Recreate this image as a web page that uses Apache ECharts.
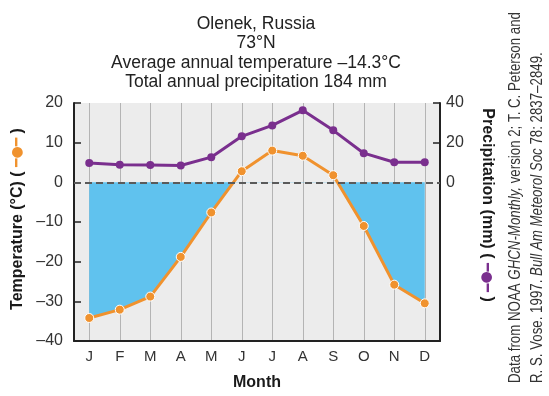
<!DOCTYPE html>
<html>
<head>
<meta charset="utf-8">
<script src="https://cdn.jsdelivr.net/npm/echarts@6/dist/echarts.min.js"></script>
<style>
  html, body { margin: 0; padding: 0; background: #fff; }
  #chart { width: 549px; height: 396px; }
</style>
</head>
<body>
<div id="chart"></div>
<script>
// climate diagram data
var months = ['J', 'F', 'M', 'A', 'M', 'J', 'J', 'A', 'S', 'O', 'N', 'D'];
var temperature = [-34.2, -32.1, -28.8, -18.8, -7.6, 2.8, 8.0, 6.7, 1.8, -11.0, -25.8, -30.5];
var precipitation = [9.7, 8.9, 8.7, 8.5, 12.7, 23.2, 28.7, 36.3, 26.2, 14.7, 10.1, 10.1];
var tempTicks = [-40, -30, -20, -10, 0, 10, 20];
var precipTicks = [0, 20, 40];

var orange = '#f0922e';
var purple = '#7a2f8e';
var blue = '#60c2ee';
var font = 'Liberation Sans, Arial, sans-serif';

function dash(v) {
    return String(v).replace('-', '–');
}

var chart = echarts.init(document.getElementById('chart'));
chart.setOption({
    animation: false,
    grid: {
        left: 74, right: 109, top: 103, bottom: 55,
        show: true, backgroundColor: '#ececec', borderWidth: 0
    },
    visualMap: {
        type: 'piecewise', show: false, dimension: 1, seriesIndex: 0,
        pieces: [
            { gte: -40, lt: 0, color: blue },
            { gte: 0, lte: 20, color: 'rgba(236,236,236,0)' }
        ]
    },
    xAxis: {
        type: 'category',
        data: months,
        boundaryGap: true,
        name: 'Month',
        nameLocation: 'middle',
        nameGap: 34,
        nameTextStyle: { fontFamily: font, fontSize: 16, fontWeight: 'bold', color: '#1a1a1a' },
        axisLine: { onZero: false, lineStyle: { color: '#222', width: 2 } },
        axisTick: { alignWithLabel: true, inside: true, length: 7, lineStyle: { color: '#222', width: 1.5 } },
        axisLabel: { fontFamily: font, fontSize: 15, color: '#333', margin: 8 },
        splitLine: { show: true, alignWithLabel: true, interval: 0, lineStyle: { color: '#b4b4b4', width: 1 } }
    },
    yAxis: [
        {
            type: 'value',
            min: -40, max: 20, interval: 10,
            name: '{t|Temperature (°C) ( }{o|━●━}{t| )}',
            nameLocation: 'middle',
            nameRotate: 90,
            nameGap: 37,
            nameTextStyle: {
                padding: [0, 0, 0, 6],
                rich: {
                    t: { fontFamily: font, fontSize: 16, fontWeight: 'bold', color: '#1a1a1a' },
                    o: { fontFamily: 'DejaVu Sans', fontSize: 14, color: orange }
                }
            },
            axisLine: { show: true, lineStyle: { color: '#222', width: 2 } },
            axisTick: { show: true, inside: true, length: 7, lineStyle: { color: '#222', width: 1.5 } },
            axisLabel: { fontFamily: font, fontSize: 16, color: '#333', margin: 11, customValues: tempTicks, formatter: dash },
            splitLine: { show: false }
        },
        {
            type: 'value',
            min: -80, max: 40, interval: 20,
            name: '{t|Precipitation (mm) ( }{o|━●━}{t| )}',
            nameLocation: 'middle',
            nameRotate: -90,
            nameGap: 39,
            nameTextStyle: {
                padding: [0, 34, 0, 0],
                rich: {
                    t: { fontFamily: font, fontSize: 16, fontWeight: 'bold', color: '#1a1a1a' },
                    o: { fontFamily: 'DejaVu Sans', fontSize: 14, color: purple }
                }
            },
            axisLine: { show: true, lineStyle: { color: '#222', width: 2 } },
            axisTick: { show: true, inside: true, length: 7, customValues: [20, 40], lineStyle: { color: '#222', width: 1.5 } },
            axisLabel: { fontFamily: font, fontSize: 16, color: '#333', margin: 6, customValues: precipTicks },
            splitLine: { show: false }
        }
    ],
    series: [
        {
            // blue fill below freezing
            type: 'line',
            yAxisIndex: 0,
            data: temperature,
            showSymbol: false,
            lineStyle: { width: 0 },
            areaStyle: { opacity: 1 },
            silent: true,
            z: 1
        },
        {
            name: 'Precipitation',
            type: 'line',
            yAxisIndex: 1,
            data: precipitation,
            symbol: 'circle',
            symbolSize: 8,
            itemStyle: { color: purple },
            lineStyle: { color: purple, width: 3 },
            z: 3
        },
        {
            name: 'Temperature',
            type: 'line',
            yAxisIndex: 0,
            data: temperature,
            symbol: 'circle',
            symbolSize: 9,
            itemStyle: { color: orange, borderColor: '#fff', borderWidth: 1 },
            lineStyle: { color: orange, width: 3 },
            z: 4
        },
        {
            // freezing line
            type: 'line',
            yAxisIndex: 0,
            data: [],
            markLine: {
                silent: true,
                symbol: 'none',
                label: { show: false },
                lineStyle: { color: '#5a5a5a', type: [7, 4], width: 2 },
                data: [{ yAxis: 0 }]
            },
            z: 2
        }
    ],
    graphic: [
        {
            type: 'text',
            x: 256, y: 14,
            style: {
                text: 'Olenek, Russia\n73°N\nAverage annual temperature –14.3°C\nTotal annual precipitation 184 mm',
                fontFamily: font, fontSize: 17.5, lineHeight: 19.5,
                fill: '#222', textAlign: 'center', textVerticalAlign: 'top'
            }
        },
        {
            type: 'text',
            x: 516, y: 383,
            rotation: Math.PI / 2,
            scaleX: 0.83,
            style: {
                text: '{r|Data from NOAA }{i|GHCN-Monthly,}{r| version 2; T. C. Peterson and}',
                textAlign: 'left', textVerticalAlign: 'middle',
                rich: {
                    r: { fontFamily: font, fontSize: 16, fill: '#333' },
                    i: { fontFamily: font, fontSize: 16, fontStyle: 'italic', fill: '#333' }
                }
            }
        },
        {
            type: 'text',
            x: 538, y: 383,
            rotation: Math.PI / 2,
            scaleX: 0.83,
            style: {
                text: '{r|R. S. Vose. 1997. }{i|Bull Am Meteorol Soc}{r| 78: 2837–2849.}',
                textAlign: 'left', textVerticalAlign: 'middle',
                rich: {
                    r: { fontFamily: font, fontSize: 16, fill: '#333' },
                    i: { fontFamily: font, fontSize: 16, fontStyle: 'italic', fill: '#333' }
                }
            }
        }
    ]
});
</script>
</body>
</html>
